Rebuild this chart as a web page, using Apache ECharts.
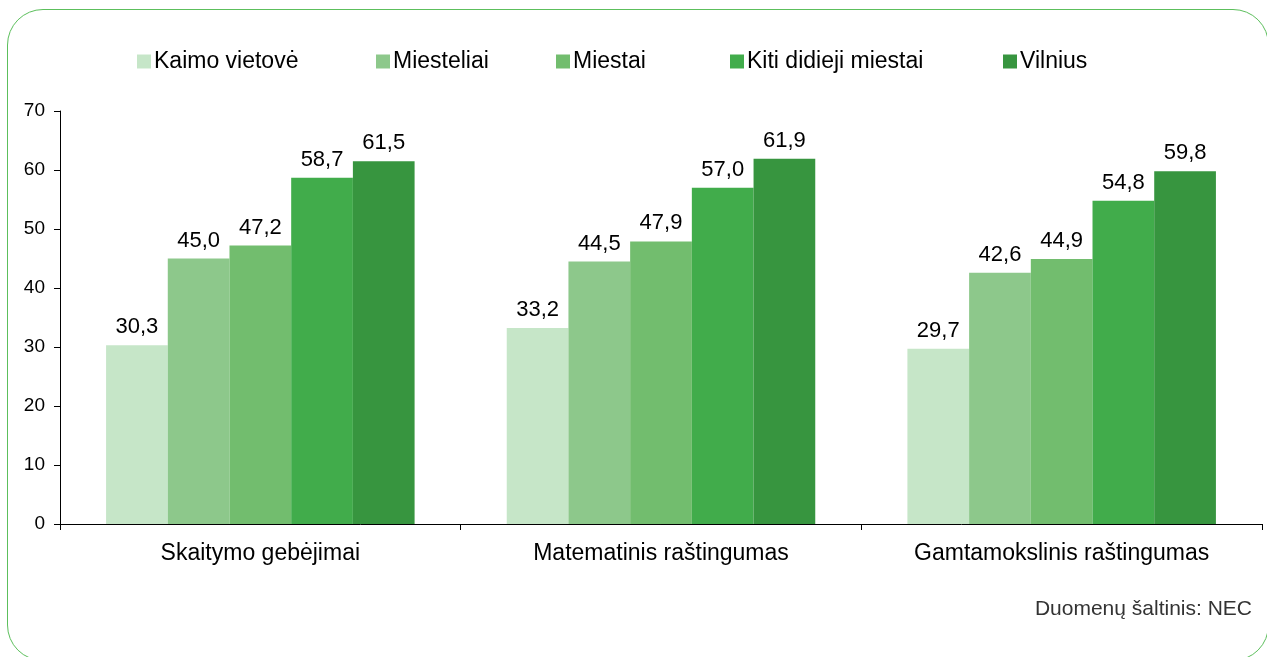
<!DOCTYPE html>
<html><head><meta charset="utf-8">
<script src="https://cdn.jsdelivr.net/npm/echarts@6/dist/echarts.min.js"></script>
<style>
html,body{margin:0;padding:0;background:#fff;overflow:hidden;}
#frame{position:absolute;left:7px;top:9px;width:1262px;height:652px;border:1.5px solid #5cbf5c;border-radius:36px;box-sizing:border-box;}
#c{position:absolute;left:0;top:0;width:1267px;height:657px;}
</style></head><body>
<div id="frame"></div>
<div id="c"></div>
<script>
const categories = ['Skaitymo gebėjimai', 'Matematinis raštingumas', 'Gamtamokslinis raštingumas'];
const seriesNames = ['Kaimo vietovė', 'Miesteliai', 'Miestai', 'Kiti didieji miestai', 'Vilnius'];
const kaimo = [30.3, 33.2, 29.7];
const miesteliai = [45.0, 44.5, 42.6];
const miestai = [47.2, 47.9, 44.9];
const kiti = [58.7, 57.0, 54.8];
const vilnius = [61.5, 61.9, 59.8];
const colors = ['#c6e6c8', '#8dc88b', '#72bd6e', '#41ac4b', '#37953f'];
const values = [kaimo, miesteliai, miestai, kiti, vilnius];
const legendLeft = [137, 376, 556, 730, 1003];
const font = '"Liberation Sans", Arial, sans-serif';

const chart = echarts.init(document.getElementById('c'));
chart.setOption({
  animation: false,
  textStyle: {fontFamily: font},
  legend: seriesNames.map((n, i) => ({
    left: legendLeft[i], top: 50, padding: 0,
    itemWidth: 14, itemHeight: 14, itemGap: 0,
    icon: 'rect',
    textStyle: {fontSize: 23, color: '#000', fontFamily: font, padding: [0, 0, 0, -2]},
    data: [n]
  })),
  grid: {left: 60, right: 5, top: 111, bottom: 133},
  xAxis: {
    type: 'category', data: categories,
    axisLine: {lineStyle: {color: '#000', width: 1}},
    axisTick: {show: true, length: 6, lineStyle: {color: '#000'}},
    axisLabel: {fontSize: 23, color: '#000', margin: 18, fontFamily: font}
  },
  yAxis: {
    type: 'value', min: 0, max: 70, interval: 10,
    axisLine: {show: true, lineStyle: {color: '#000', width: 1}},
    axisTick: {show: true, length: 6, lineStyle: {color: '#000'}},
    splitLine: {show: false},
    axisLabel: {fontSize: 19, color: '#000', margin: 15, fontFamily: font}
  },
  series: seriesNames.map((n, i) => ({
    name: n, type: 'bar', data: values[i],
    barGap: '0%', barCategoryGap: '23%',
    itemStyle: {color: colors[i]},
    label: {show: true, position: 'top', distance: 7, fontSize: 22, color: '#000', fontFamily: font,
      formatter: p => p.value.toFixed(1).replace('.', ',')}
  })),
  graphic: [{
    type: 'text', right: 15, top: 599,
    style: {text: 'Duomenų šaltinis: NEC', fill: '#333', font: '21px ' + font}
  }]
});
</script>
</body></html>
